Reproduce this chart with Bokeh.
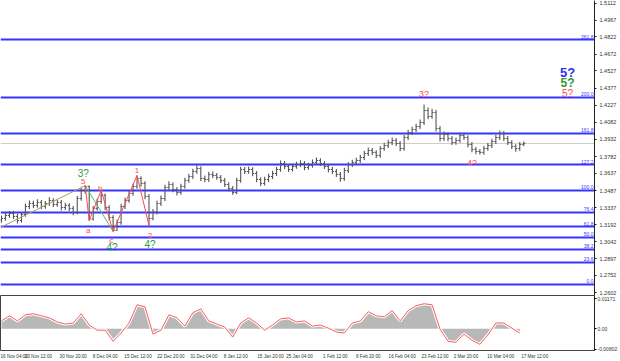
from bokeh.plotting import figure
from bokeh.layouts import column
from bokeh.models import (Range1d, FixedTicker, NumeralTickFormatter, Label)
from bokeh.core.properties import value
from bokeh.embed import file_html
from bokeh.resources import INLINE

# ---------------- data ----------------
first_open = 1.3230
closes = [
    1.3245, 1.3271, 1.3288, 1.3262, 1.3227, 1.3279, 1.3349, 1.3375, 1.3358, 1.3384,
    1.3349, 1.3375, 1.3401, 1.3366, 1.3384, 1.3340, 1.3358, 1.3332, 1.3297, 1.3418,
    1.3488, 1.3523, 1.3240, 1.3332, 1.3392, 1.3444, 1.3340, 1.3253, 1.3141, 1.3210,
    1.3349, 1.3401, 1.3462, 1.3523, 1.3592, 1.3549, 1.3436, 1.3245, 1.3300, 1.3375,
    1.3418, 1.3514, 1.3540, 1.3496, 1.3470, 1.3523, 1.3575, 1.3609, 1.3653, 1.3679,
    1.3592, 1.3583, 1.3627, 1.3618, 1.3601, 1.3575, 1.3540, 1.3505, 1.3470, 1.3575,
    1.3670, 1.3653, 1.3670, 1.3635, 1.3583, 1.3549, 1.3583, 1.3609, 1.3635, 1.3670,
    1.3722, 1.3696, 1.3670, 1.3696, 1.3713, 1.3722, 1.3687, 1.3705, 1.3731, 1.3748,
    1.3722, 1.3696, 1.3670, 1.3653, 1.3627, 1.3592, 1.3661, 1.3713, 1.3731, 1.3748,
    1.3774, 1.3809, 1.3835, 1.3818, 1.3792, 1.3852, 1.3878, 1.3904, 1.3922, 1.3896,
    1.3852, 1.3948, 1.3991, 1.4017, 1.4043, 1.4078, 1.4182, 1.4130, 1.4165, 1.4026,
    1.3939, 1.3974, 1.3939, 1.3904, 1.3922, 1.3965, 1.3948, 1.3887, 1.3844, 1.3826,
    1.3818, 1.3852, 1.3878, 1.3913, 1.3948, 1.3983, 1.3939, 1.3904, 1.3870, 1.3852,
    1.3887, 1.3896]
highs = [
    1.3270, 1.3295, 1.3310, 1.3312, 1.3285, 1.3300, 1.3375, 1.3400, 1.3398, 1.3412,
    1.3406, 1.3396, 1.3428, 1.3420, 1.3407, 1.3404, 1.3382, 1.3378, 1.3353, 1.3440,
    1.3512, 1.3530, 1.3530, 1.3352, 1.3418, 1.3488, 1.3462, 1.3360, 1.3272, 1.3236,
    1.3372, 1.3426, 1.3486, 1.3548, 1.3618, 1.3612, 1.3568, 1.3458, 1.3328, 1.3398,
    1.3444, 1.3538, 1.3568, 1.3560, 1.3518, 1.3546, 1.3598, 1.3633, 1.3676, 1.3706,
    1.3698, 1.3618, 1.3650, 1.3653, 1.3640, 1.3623, 1.3596, 1.3560, 1.3526, 1.3598,
    1.3694, 1.3692, 1.3696, 1.3690, 1.3656, 1.3603, 1.3606, 1.3632, 1.3658, 1.3692,
    1.3748, 1.3743, 1.3716, 1.3720, 1.3738, 1.3750, 1.3744, 1.3728, 1.3756, 1.3773,
    1.3768, 1.3743, 1.3718, 1.3692, 1.3674, 1.3648, 1.3684, 1.3736, 1.3754, 1.3772,
    1.3798, 1.3833, 1.3860, 1.3856, 1.3838, 1.3874, 1.3902, 1.3928, 1.3948, 1.3943,
    1.3916, 1.3970, 1.4016, 1.4042, 1.4068, 1.4104, 1.4234, 1.4208, 1.4198, 1.4186,
    1.4048, 1.4000, 1.3994, 1.3960, 1.3948, 1.3990, 1.3988, 1.3968, 1.3908, 1.3866,
    1.3848, 1.3874, 1.3900, 1.3936, 1.3970, 1.4008, 1.4003, 1.3960, 1.3924, 1.3890,
    1.3908, 1.3912]
lows = [
    1.3207, 1.3224, 1.3250, 1.3241, 1.3200, 1.3208, 1.3260, 1.3327, 1.3333, 1.3338,
    1.3325, 1.3329, 1.3354, 1.3344, 1.3347, 1.3314, 1.3319, 1.3310, 1.3272, 1.3282,
    1.3398, 1.3462, 1.3225, 1.3228, 1.3312, 1.3372, 1.3317, 1.3230, 1.3132, 1.3140,
    1.3190, 1.3327, 1.3382, 1.3442, 1.3502, 1.3522, 1.3412, 1.3184, 1.3230, 1.3280,
    1.3352, 1.3397, 1.3492, 1.3472, 1.3444, 1.3450, 1.3502, 1.3554, 1.3588, 1.3632,
    1.3570, 1.3560, 1.3562, 1.3594, 1.3580, 1.3552, 1.3518, 1.3482, 1.3450, 1.3454,
    1.3554, 1.3630, 1.3632, 1.3612, 1.3560, 1.3527, 1.3530, 1.3562, 1.3588, 1.3614,
    1.3650, 1.3674, 1.3648, 1.3652, 1.3676, 1.3692, 1.3664, 1.3667, 1.3684, 1.3712,
    1.3700, 1.3674, 1.3647, 1.3630, 1.3604, 1.3564, 1.3572, 1.3640, 1.3692, 1.3710,
    1.3727, 1.3752, 1.3788, 1.3796, 1.3770, 1.3772, 1.3832, 1.3857, 1.3882, 1.3874,
    1.3828, 1.3832, 1.3927, 1.3970, 1.3996, 1.4022, 1.4057, 1.4107, 1.4110, 1.4000,
    1.3914, 1.3917, 1.3916, 1.3882, 1.3884, 1.3902, 1.3926, 1.3864, 1.3820, 1.3802,
    1.3800, 1.3798, 1.3832, 1.3857, 1.3892, 1.3927, 1.3917, 1.3882, 1.3847, 1.3824,
    1.3832, 1.3872]

current_price = 1.3896

fib_names = ["0.0", "23.6", "38.2", "50.0", "61.8", "76.4", "100.0", "127.2", "161.8", "200.0", "261.8"]
fib_prices = [1.2672, 1.2863, 1.2976, 1.3080, 1.3175, 1.3297, 1.3488, 1.3713, 1.3983, 1.4295, 1.4798]

price_ticks = [1.2602, 1.2752, 1.2897, 1.3042, 1.3192, 1.3337, 1.3487, 1.3637, 1.3782,
               1.3932, 1.4082, 1.4227, 1.4377, 1.4527, 1.4672, 1.4822, 1.4967, 1.5112]

date_labels = ["16 Nov 04:00", "23 Nov 12:00", "30 Nov 20:00", "8 Dec 04:00", "15 Dec 12:00",
               "22 Dec 20:00", "31 Dec 04:00", "8 Jan 12:00", "15 Jan 20:00", "25 Jan 04:00",
               "1 Feb 12:00", "8 Feb 20:00", "16 Feb 04:00", "23 Feb 12:00", "2 Mar 20:00",
               "10 Mar 04:00", "17 Mar 12:00"]
date_label_bars = [0.5, 9.25, 18.0, 26.0, 34.25, 42.5, 50.75, 58.75, 67.5, 74.75,
                   83.75, 92.0, 100.5, 108.75, 116.5, 125.25, 133.75]

# wave count (bar index, price)
trend_x = [-0.25, 21]
trend_y = [1.3167, 1.3530]
wave_red_x = [21, 22, 25, 28, 34, 37]
wave_red_y = [1.3530, 1.3225, 1.3488, 1.3132, 1.3618, 1.3184]
wave_green_x = [21, 28]
wave_green_y = [1.3530, 1.3132]

red_small_text = ["5", "a", "b", "c", "1", "2"]
red_small_x = [20.5, 21.75, 24.75, 27.5, 34.0, 37.25]
red_small_y = [1.3566, 1.3141, 1.3505, 1.3054, 1.3661, 1.3097]

green_text = ["3?", "4?", "4?"]
green_x = [20.5, 27.75, 37.25]
green_y = [1.3635, 1.2993, 1.3019]

red_q_text = ["3?", "4?"]
red_q_x = [106.0, 118.0]
red_q_y = [1.4321, 1.3722]

target_x = 142.0
target_blue_y = 1.4512
target_green_y = 1.4417
target_red_y = 1.4330

osc_values = [
    0.0030, 0.0050, 0.0030, 0.0054, 0.0058, 0.0050, 0.0042, 0.0026, 0.0018, 0.0022,
    0.0058, 0.0014, -0.0006, -0.0006, -0.0049, -0.0017, 0.0022, 0.0093, 0.0085, -0.0021,
    -0.0006, 0.0054, 0.0042, 0.0010, 0.0062, 0.0077, 0.0030, 0.0018, 0.0006, -0.0033,
    0.0022, 0.0042, 0.0022, -0.0006, 0.0014, 0.0038, 0.0042, 0.0026, 0.0030, 0.0010,
    0.0014, 0.0002, -0.0013, -0.0017, 0.0022, 0.0030, 0.0066, 0.0050, 0.0046, 0.0070,
    0.0030, 0.0070, 0.0089, 0.0097, 0.0093, -0.0002, -0.0049, -0.0053, -0.0021, -0.0045,
    -0.0061, -0.0025, 0.0022, 0.0022, 0.0002, -0.0017]
osc_ticks = [-0.00802, 0.0, 0.01171]
osc_tick_labels = ["-0.00802", "0.00", "0.01171"]

# ---------------- derived ----------------
n = len(closes)
idx = list(range(n))
opens = [first_open] + closes[:-1]
osc_x = list(range(0, 2 * len(osc_values), 2))

FONT = "Liberation Sans"
BLUE = "#3535ff"
RED = "#ff4a4a"
GREEN = "#2e9a3c"
BAR = "#555555"

x_range = Range1d(-0.25, 148.75)

p = figure(width=620, height=295, x_range=x_range, y_range=Range1d(1.2576, 1.5137),
           output_backend="svg", toolbar_location=None, x_axis_location=None,
           y_axis_location="right", min_border_left=0, min_border_top=0,
           min_border_bottom=0, min_border_right=24)
p.outline_line_color = None
p.xgrid.visible = False
p.ygrid.visible = False
p.background_fill_color = "white"
ax = p.yaxis[0]
ax.ticker = FixedTicker(ticks=price_ticks)
ax.formatter = NumeralTickFormatter(format="0.0000")
ax.major_label_text_font = FONT
ax.major_label_text_font_size = "5.5px"
ax.major_label_text_color = "#333333"
ax.major_tick_out = 2
ax.major_tick_in = 0
ax.minor_tick_out = 0
ax.minor_tick_in = 0
ax.major_label_standoff = 3
ax.axis_line_color = "#222222"
ax.major_tick_line_color = "#222222"

# current price line
p.line([x_range.start, x_range.end], [current_price, current_price], color="#cccccc", line_width=1)

# fib levels
for name, lvl in zip(fib_names, fib_prices):
    p.line([x_range.start, x_range.end], [lvl, lvl], color=BLUE, line_width=2)
p.text(x=[148.5] * len(fib_prices), y=fib_prices, text=fib_names, text_align="right",
       text_baseline="bottom", text_color=BLUE, text_font=value(FONT), text_font_size="5px",
       y_offset=-1)

# OHLC bars
p.segment(x0=idx, y0=lows, x1=idx, y1=highs, color=BAR, line_width=1.1)
p.segment(x0=[i - 0.4 for i in idx], y0=opens, x1=idx, y1=opens, color=BAR, line_width=1)
p.segment(x0=idx, y0=closes, x1=[i + 0.4 for i in idx], y1=closes, color=BAR, line_width=1)

# wave lines
p.line(trend_x, trend_y, color="#b89a5a", line_width=1)
p.line(wave_green_x, wave_green_y, color="#5cb85c", line_width=1)
p.line(wave_red_x, wave_red_y, color=RED, line_width=1)

# wave labels
p.text(x=red_small_x, y=red_small_y, text=red_small_text, text_align="center",
       text_baseline="middle", text_color=RED, text_font=value(FONT), text_font_size="8px")
p.text(x=green_x, y=green_y, text=green_text, text_align="center", text_baseline="middle",
       text_color=GREEN, text_font=value(FONT), text_font_size="10px")
p.text(x=red_q_x, y=red_q_y, text=red_q_text, text_align="center", text_baseline="middle",
       text_color=RED, text_font=value(FONT), text_font_size="9px")
p.text(x=[target_x], y=[target_blue_y], text=["5?"], text_align="center", text_baseline="middle",
       text_color="#3030f0", text_font=value(FONT), text_font_size="13px", text_font_style="bold")
p.text(x=[target_x], y=[target_green_y], text=["5?"], text_align="center", text_baseline="middle",
       text_color=GREEN, text_font=value(FONT), text_font_size="12px", text_font_style="bold")
p.text(x=[target_x], y=[target_red_y], text=["5?"], text_align="center", text_baseline="middle",
       text_color=RED, text_font=value(FONT), text_font_size="10px")

# current price box on axis
p.add_layout(Label(x=x_range.end, y=current_price, x_offset=1, text="1.3896",
                   text_align="left", text_baseline="middle", text_color="white",
                   text_font=FONT, text_font_size="5.5px", background_fill_color="black",
                   padding=1))

# ---------------- oscillator ----------------
q = figure(width=620, height=66, x_range=x_range, y_range=Range1d(-0.0085, 0.0129),
           output_backend="svg", toolbar_location=None, y_axis_location="right",
           min_border_left=0, min_border_top=0, min_border_right=24)
q.outline_line_color = "#444444"
q.xgrid.visible = False
q.ygrid.visible = False
q.varea(x=osc_x, y1=[0.0] * len(osc_values), y2=osc_values, fill_color="#b8b8b8")
q.line(osc_x, osc_values, color="white", line_width=3)
q.line(osc_x, osc_values, color="#ff5a5a", line_width=1)

qa = q.yaxis[0]
qa.ticker = FixedTicker(ticks=osc_ticks)
qa.major_label_overrides = dict(zip(osc_ticks, osc_tick_labels))
qa.major_label_text_font = FONT
qa.major_label_text_font_size = "5px"
qa.major_label_text_color = "#333333"
qa.major_tick_out = 2
qa.major_tick_in = 0
qa.minor_tick_out = 0
qa.minor_tick_in = 0
qa.major_label_standoff = 1
qa.axis_line_color = "#222222"

xa = q.xaxis[0]
xa.ticker = FixedTicker(ticks=date_label_bars)
xa.major_label_overrides = dict(zip(date_label_bars, date_labels))
xa.major_label_text_font = FONT
xa.major_label_text_font_size = "4.6px"
xa.major_label_text_color = "#333333"
xa.major_tick_out = 0
xa.major_tick_in = 0
xa.minor_tick_out = 0
xa.minor_tick_in = 0
xa.major_label_standoff = 3
xa.axis_line_color = None

layout = column(p, q, spacing=0)
open("out.html", "w").write(file_html(layout, INLINE))
